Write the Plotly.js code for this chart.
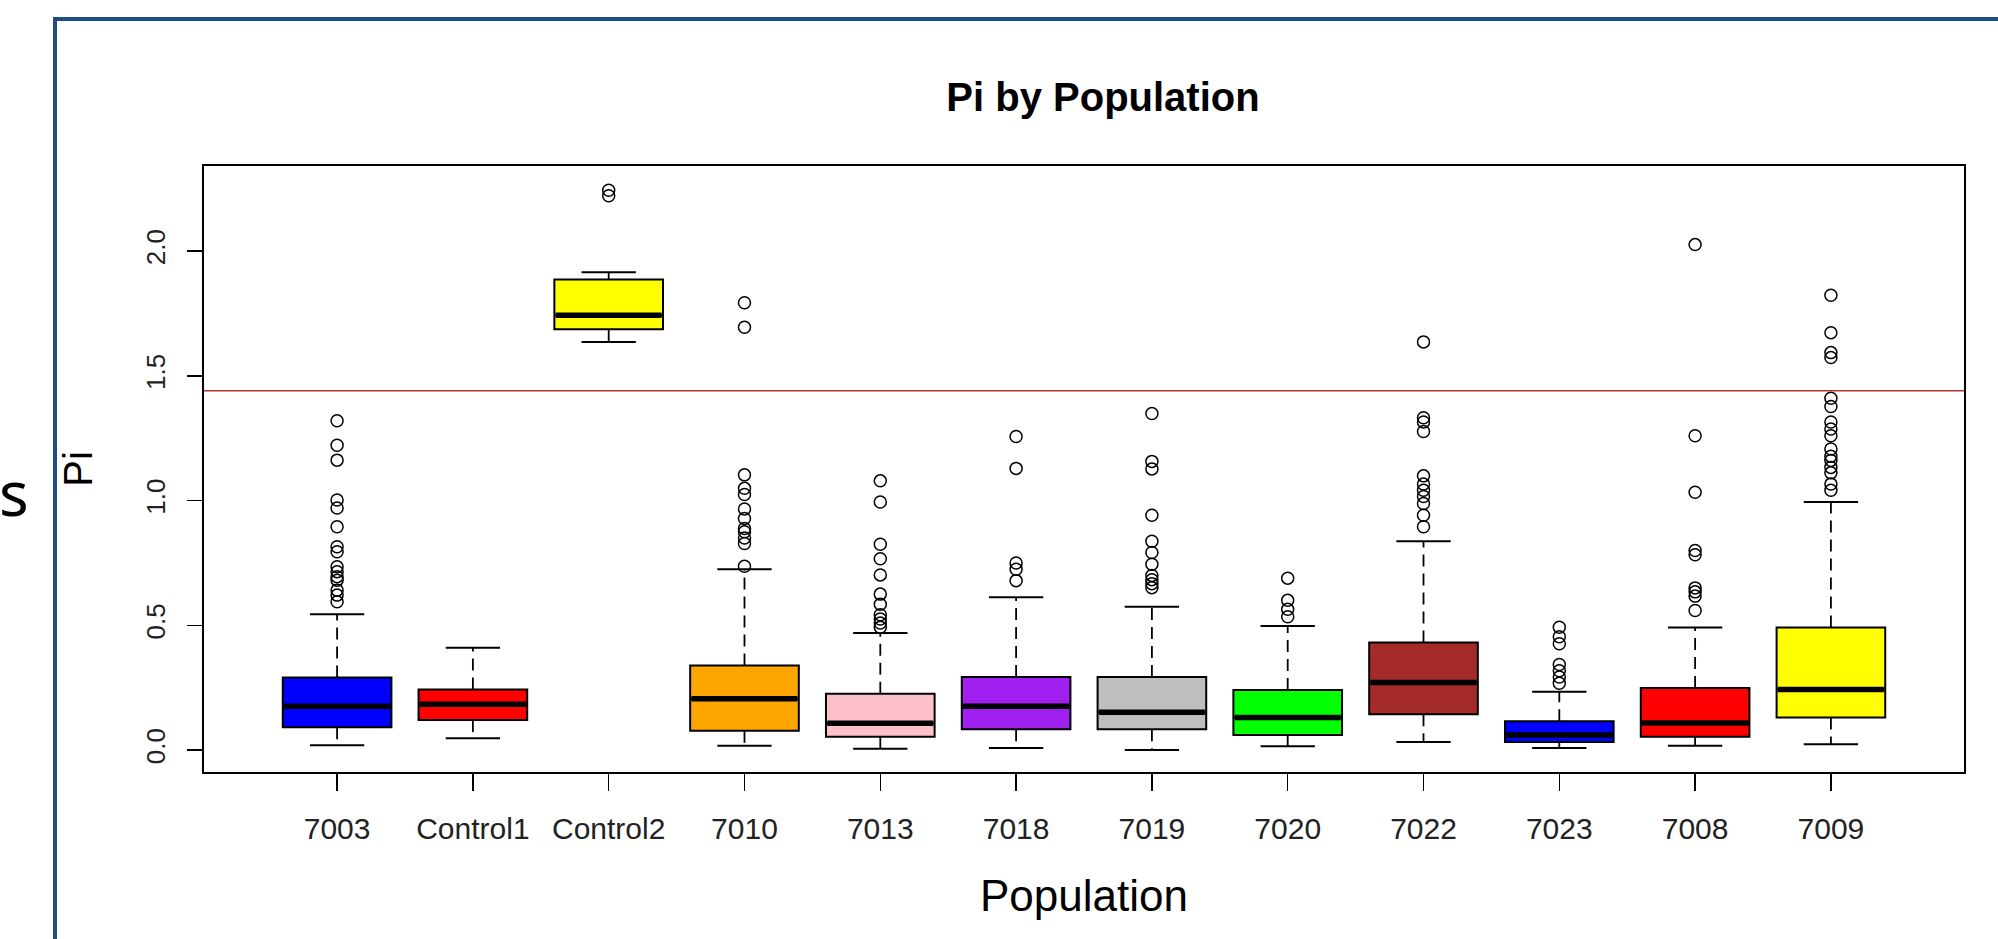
<!DOCTYPE html>
<html>
<head>
<meta charset="utf-8">
<script src="https://cdn.plot.ly/plotly-3.0.1.min.js"></script>
<style>
  html, body { margin: 0; padding: 0; background: #ffffff; }
  #chart { width: 1998px; height: 939px; }
</style>
</head>
<body>
<div id="chart"></div>
<script>
// ---- data ----
const populations = ["7003", "Control1", "Control2", "7010", "7013", "7018", "7019", "7020", "7022", "7023", "7008", "7009"];
const boxColors   = ["#0000FF", "#FF0000", "#FFFF00", "#FFA500", "#FFC0CB", "#A020F0", "#BEBEBE", "#00FF00", "#A52A2A", "#0000FF", "#FF0000", "#FFFF00"];

const lowerWhisker = [0.019, 0.047, 1.636, 0.017, 0.005, 0.008, 0.000, 0.015, 0.032, 0.008, 0.017, 0.023];
const q1Values     = [0.091, 0.120, 1.687, 0.077, 0.053, 0.083, 0.083, 0.060, 0.143, 0.032, 0.053, 0.130];
const medianValues = [0.176, 0.184, 1.743, 0.206, 0.107, 0.176, 0.151, 0.130, 0.271, 0.060, 0.108, 0.243];
const q3Values     = [0.291, 0.243, 1.886, 0.339, 0.226, 0.293, 0.293, 0.241, 0.431, 0.115, 0.249, 0.491];
const upperWhisker = [0.544, 0.410, 1.915, 0.725, 0.469, 0.612, 0.574, 0.497, 0.837, 0.234, 0.491, 0.994];

const outliers7003     = [1.320, 1.222, 1.162, 1.002, 0.970, 0.895, 0.815, 0.795, 0.735, 0.715, 0.695, 0.681, 0.641, 0.621, 0.594];
const outliersControl1 = [];
const outliersControl2 = [2.244, 2.222];
const outliers7010     = [1.793, 1.695, 1.103, 1.049, 1.024, 0.966, 0.928, 0.888, 0.875, 0.850, 0.828, 0.737];
const outliers7013     = [1.079, 0.994, 0.825, 0.767, 0.702, 0.625, 0.584, 0.542, 0.525, 0.509, 0.492];
const outliers7018     = [1.257, 1.129, 0.750, 0.725, 0.679];
const outliers7019     = [1.349, 1.157, 1.127, 0.941, 0.837, 0.792, 0.745, 0.700, 0.683, 0.667, 0.651];
const outliers7020     = [0.689, 0.600, 0.564, 0.534];
const outliers7022     = [1.636, 1.332, 1.315, 1.277, 1.099, 1.066, 1.041, 1.016, 0.988, 0.941, 0.895];
const outliers7023     = [0.492, 0.454, 0.426, 0.343, 0.318, 0.293, 0.268];
const outliers7008     = [2.026, 1.260, 1.033, 0.800, 0.783, 0.650, 0.634, 0.617, 0.559];
const outliers7009     = [1.823, 1.673, 1.593, 1.573, 1.410, 1.377, 1.315, 1.287, 1.260, 1.207, 1.178, 1.161, 1.133, 1.111, 1.066, 1.041];

const referenceLine = 1.44;
const yTickValues = [0, 0.5, 1, 1.5, 2];
const yTickLabels = ["0.0", "0.5", "1.0", "1.5", "2.0"];

// ---- build traces ----
const outlierLists = [outliers7003, outliersControl1, outliersControl2, outliers7010, outliers7013, outliers7018,
                      outliers7019, outliers7020, outliers7022, outliers7023, outliers7008, outliers7009];
const positions = populations.map((p, i) => i + 1);
const boxWidth = 0.8;
const capHalf = 0.2;

const traces = [];

// dashed whisker stems
const stemX = [], stemY = [];
positions.forEach((x, i) => {
  stemX.push(x, x, null, x, x, null);
  stemY.push(q3Values[i], upperWhisker[i], null, q1Values[i], lowerWhisker[i], null);
});
traces.push({
  type: "scatter", mode: "lines", x: stemX, y: stemY,
  line: { color: "#000000", width: 1.8, dash: "12px,7px" },
  hoverinfo: "skip", showlegend: false
});

// whisker caps
const capX = [], capY = [];
positions.forEach((x, i) => {
  capX.push(x - capHalf, x + capHalf, null, x - capHalf, x + capHalf, null);
  capY.push(upperWhisker[i], upperWhisker[i], null, lowerWhisker[i], lowerWhisker[i], null);
});
traces.push({
  type: "scatter", mode: "lines", x: capX, y: capY,
  line: { color: "#000000", width: 2 },
  hoverinfo: "skip", showlegend: false
});

// boxes
positions.forEach((x, i) => {
  traces.push({
    type: "box", name: populations[i], x: [x],
    q1: [q1Values[i]], median: [medianValues[i]], q3: [q3Values[i]],
    lowerfence: [q1Values[i]], upperfence: [q3Values[i]],
    width: boxWidth, whiskerwidth: 0, boxpoints: false,
    fillcolor: boxColors[i], line: { color: "#000000", width: 2 },
    hoverinfo: "skip", showlegend: false
  });
});

// thick medians
const medX = [], medY = [];
positions.forEach((x, i) => {
  medX.push(x - boxWidth / 2 + 0.01, x + boxWidth / 2 - 0.01, null);
  medY.push(medianValues[i], medianValues[i], null);
});
traces.push({
  type: "scatter", mode: "lines", x: medX, y: medY,
  line: { color: "#000000", width: 5.5 },
  hoverinfo: "skip", showlegend: false
});

// outliers
const outX = [], outY = [];
outlierLists.forEach((list, i) => {
  list.forEach(v => { outX.push(positions[i]); outY.push(v); });
});
traces.push({
  type: "scatter", mode: "markers", x: outX, y: outY,
  marker: { symbol: "circle-open", size: 12, color: "#000000", line: { width: 1.5, color: "#000000" } },
  hoverinfo: "skip", showlegend: false
});

// ---- layout ----
const W = 1998, H = 939;
const M = { l: 204, r: 34, t: 166, b: 167 };
const PW = W - M.l - M.r, PH = H - M.t - M.b;
const px = v => (v - M.l) / PW;          // page pixel -> paper x
const py = v => (H - M.b - v) / PH;      // page pixel -> paper y

const layout = {
  width: W, height: H,
  margin: M,
  paper_bgcolor: "#ffffff",
  plot_bgcolor: "#ffffff",
  showlegend: false,
  boxmode: "overlay",
  title: {
    text: "Pi by Population",
    font: { family: "Liberation Sans, Arial", size: 40, weight: "bold", color: "#000000" },
    x: px(1103), xref: "paper", xanchor: "center",
    y: 1 - 97 / H, yref: "container", yanchor: "middle"
  },
  xaxis: {
    range: [0.02, 12.98],
    tickmode: "array", tickvals: positions, ticktext: populations,
    ticks: "outside", ticklen: 17, tickwidth: 1.5, tickcolor: "#000000",
    tickfont: { family: "Liberation Sans, Arial", size: 30, color: "#222222" },
    ticklabelstandoff: 12,
    showline: true, linecolor: "#000000", linewidth: 2, mirror: true,
    showgrid: false, zeroline: false, fixedrange: true,
    title: { text: "Population", font: { family: "Liberation Sans, Arial", size: 44, color: "#000000" }, standoff: 36 }
  },
  yaxis: {
    range: [-0.088, 2.341],
    tickmode: "array", tickvals: yTickValues, ticktext: yTickLabels,
    tickangle: -90,
    ticks: "outside", ticklen: 15, tickwidth: 1.5, tickcolor: "#000000",
    tickfont: { family: "Liberation Sans, Arial", size: 26, color: "#222222" },
    ticklabelstandoff: 12,
    showline: true, linecolor: "#000000", linewidth: 2, mirror: true,
    showgrid: false, zeroline: false, fixedrange: true,
    title: { text: "Pi", font: { family: "Liberation Sans, Arial", size: 40, color: "#000000" }, standoff: 36 }
  },
  shapes: [
    {
      type: "rect", xref: "paper", yref: "paper", layer: "below",
      x0: px(55), x1: px(2010), y0: py(965), y1: py(19),
      line: { color: "#1F4E80", width: 4 }, fillcolor: "rgba(0,0,0,0)"
    },
    {
      type: "line", xref: "paper", yref: "y", layer: "above",
      x0: 0, x1: 1, y0: referenceLine, y1: referenceLine,
      line: { color: "#B3302C", width: 1.6 }
    }
  ],
  annotations: [
    {
      text: "s", xref: "paper", yref: "paper",
      x: px(-2), xanchor: "left", y: py(492), yanchor: "middle",
      showarrow: false, borderpad: 0,
      font: { family: "Noto Sans, Open Sans", size: 62, color: "#000000" }
    }
  ]
};

Plotly.newPlot("chart", traces, layout, { staticPlot: true, displayModeBar: false });
</script>
</body>
</html>
